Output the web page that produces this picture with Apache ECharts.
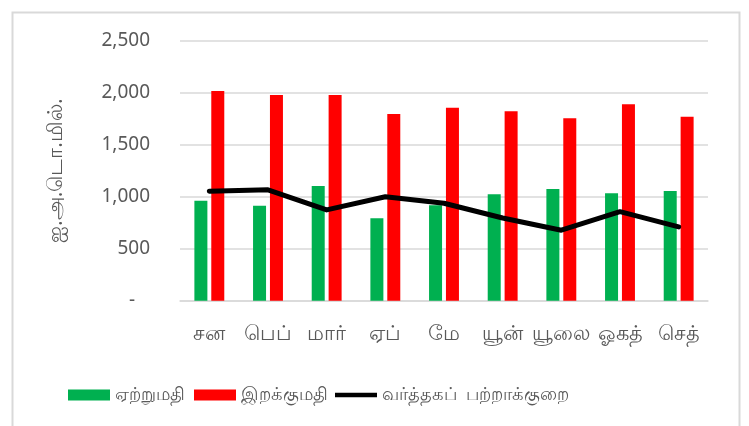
<!DOCTYPE html>
<html>
<head>
<meta charset="utf-8">
<script src="https://cdn.jsdelivr.net/npm/echarts@6/dist/echarts.min.js"></script>
<style>html,body{margin:0;padding:0;background:#fff;}#c{width:749px;height:426px;}</style>
</head>
<body>
<div id="c"></div>
<script>
const categories = ['சன', 'பெப்', 'மார்', 'ஏப்', 'மே', 'யூன்', 'யூலை', 'ஓகத்', 'செத்'];
const exportsVals = [962, 913, 1103, 792, 918, 1023, 1074, 1033, 1055];
const importsVals = [2016, 1978, 1978, 1795, 1856, 1821, 1754, 1888, 1769];
const deficitVals = [1052, 1066, 873, 1000, 937, 795, 678, 856, 710];
const seriesNames = ['ஏற்றுமதி', 'இறக்குமதி', 'வர்த்தகப்  பற்றாக்குறை'];
const yAxisName = 'ஐ.அ.டொ.மில்.';

const font = "'Noto Sans', 'DejaVu Sans', sans-serif";
const legendBase = {
  bottom: 17, itemWidth: 42, itemHeight: 11, itemGap: 0,
  textStyle: {color: '#595959', fontSize: 17.5, fontFamily: font}
};
const legendIcons = ['rect', 'rect', 'path://M0,0H42V4.5H0Z'];
const legendLefts = [63, 189, 330];

const chart = echarts.init(document.getElementById('c'), null, {renderer: 'canvas'});
chart.setOption({
  animation: false,
  backgroundColor: '#fff',
  textStyle: {fontFamily: font},
  graphic: [{
    type: 'rect', left: 10, top: 10,
    shape: {width: 727, height: 430},
    style: {fill: 'none', stroke: '#d9d9d9', lineWidth: 2}
  }],
  grid: {left: 180, right: 41, top: 40.7, bottom: 125.3},
  legend: seriesNames.map((n, i) => Object.assign({}, legendBase, {
    left: legendLefts[i],
    data: [{name: n, icon: legendIcons[i]}]
  })),
  xAxis: {
    type: 'category', data: categories,
    axisLine: {lineStyle: {color: '#d9d9d9', width: 1.5}},
    axisTick: {show: false},
    axisLabel: {color: '#595959', fontSize: 21, margin: 23, interval: 0}
  },
  yAxis: {
    type: 'value', min: 0, max: 2500, interval: 500,
    name: yAxisName, nameLocation: 'middle', nameGap: 113, nameRotate: 90,
    nameTextStyle: {color: '#595959', fontSize: 21},
    axisLine: {show: false}, axisTick: {show: false},
    splitLine: {lineStyle: {color: '#d9d9d9', width: 1.5}},
    axisLabel: {
      color: '#595959', fontSize: 19, margin: 30,
      formatter: v => v === 0 ? '-   ' : v.toLocaleString('en-US')
    }
  },
  series: [
    {name: seriesNames[0], type: 'bar', data: exportsVals, barWidth: 13, barGap: '30%',
     itemStyle: {color: '#00b050'}},
    {name: seriesNames[1], type: 'bar', data: importsVals, barWidth: 13,
     itemStyle: {color: '#ff0000'}},
    {name: seriesNames[2], type: 'line', data: deficitVals, symbol: 'none',
     lineStyle: {color: '#000', width: 5, cap: 'round', join: 'round'},
     itemStyle: {color: '#000'}}
  ]
});
</script>
</body>
</html>
